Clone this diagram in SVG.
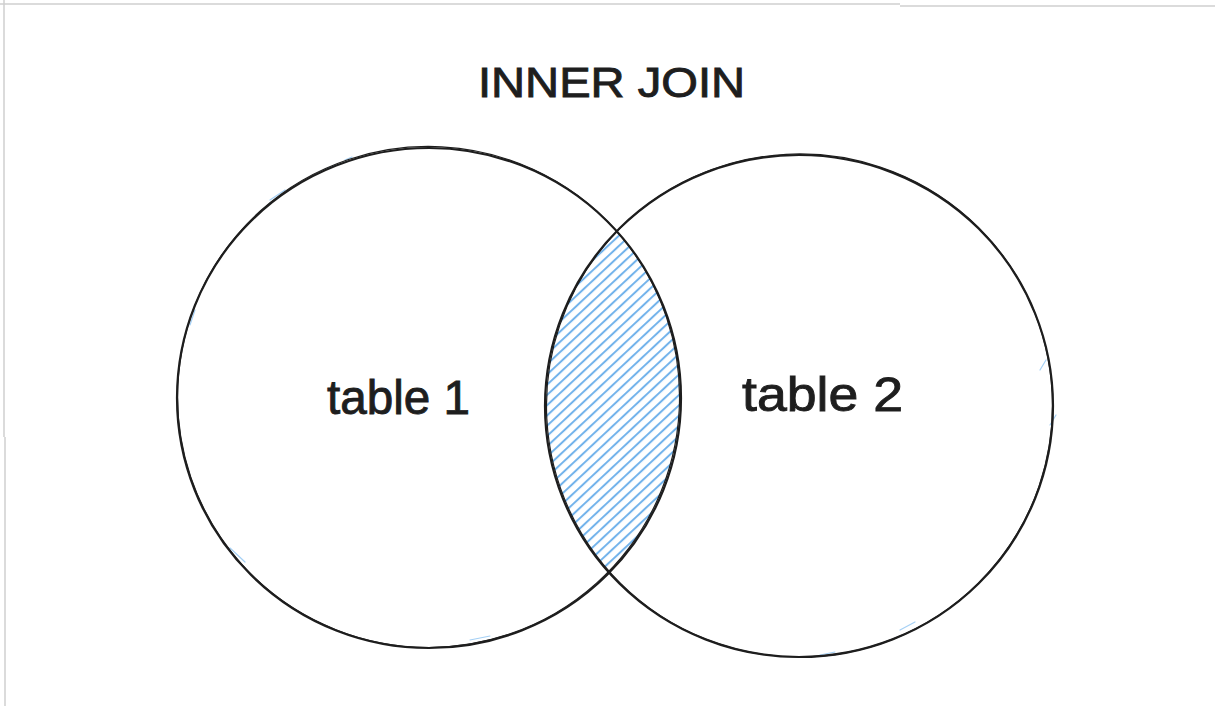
<svg xmlns="http://www.w3.org/2000/svg" width="1215" height="706" viewBox="0 0 1215 706">
  <style>
    .ink { fill: none; stroke: #1e1e1e; stroke-linecap: round; }
    .lbl { font-family: "Liberation Sans", Arial, sans-serif; fill: #1e1e1e; stroke: #1e1e1e; stroke-width: 0.9; }
    .frame { stroke: #cfcfcf; stroke-width: 1.5; fill: none; }
    .hint { stroke: #a5d0f5; stroke-width: 1.2; stroke-linecap: round; fill: none; }
  </style>
  <defs>
    <pattern id="hatch" patternUnits="userSpaceOnUse" width="7.5" height="7.5" patternTransform="rotate(47)">
      <line x1="2" y1="-1" x2="2" y2="9" stroke="#6aaeea" stroke-width="1.9"/>
    </pattern>
    <clipPath id="clipLeft">
      <ellipse cx="429" cy="398" rx="252" ry="250"/>
    </clipPath>
  </defs>

  <rect x="0" y="0" width="1215" height="706" fill="#ffffff"/>
  <g id="frame">
    <line class="frame" x1="0" y1="4" x2="900" y2="4"/>
    <line class="frame" x1="900" y1="6" x2="1215" y2="6" stroke="#dddddd"/>
    <line class="frame" x1="4" y1="0" x2="4" y2="437"/>
    <line class="frame" x1="5" y1="437" x2="5" y2="706" stroke="#ececec"/>
  </g>

  <g id="intersection">
    <g clip-path="url(#clipLeft)">
      <ellipse cx="799" cy="406" rx="254" ry="251" fill="url(#hatch)"/>
    </g>
  </g>

  <g id="table1">
    <path class="hint" d="M270 200 L285 190 M320 172 L335 165 M345 160 L352 157 M195 310 L190 325 M230 548 L245 562 M470 640 L490 636"/>
    <ellipse class="ink" cx="429" cy="398" rx="252" ry="250" stroke-width="2.2"/>
    <ellipse class="ink" cx="428.5" cy="397" rx="251" ry="250.5" stroke-width="1.2" transform="rotate(3 429 398)"/>
    <text class="lbl" x="327" y="414" font-size="48" textLength="143" lengthAdjust="spacingAndGlyphs">table 1</text>
  </g>

  <g id="table2">
    <path class="hint" d="M1040 370 L1046 360 M1050 425 L1056 415 M900 630 L915 622 M820 655 L835 652"/>
    <ellipse class="ink" cx="799" cy="406" rx="254" ry="251" stroke-width="2.2"/>
    <ellipse class="ink" cx="799.5" cy="405.5" rx="253" ry="251.5" stroke-width="1.2" transform="rotate(-3 799 406)"/>
    <text class="lbl" x="742" y="411" font-size="48" textLength="161" lengthAdjust="spacingAndGlyphs">table 2</text>
  </g>

  <g id="title">
    <text class="lbl" x="478" y="97" font-size="42" textLength="267" lengthAdjust="spacingAndGlyphs">INNER JOIN</text>
  </g>
</svg>
